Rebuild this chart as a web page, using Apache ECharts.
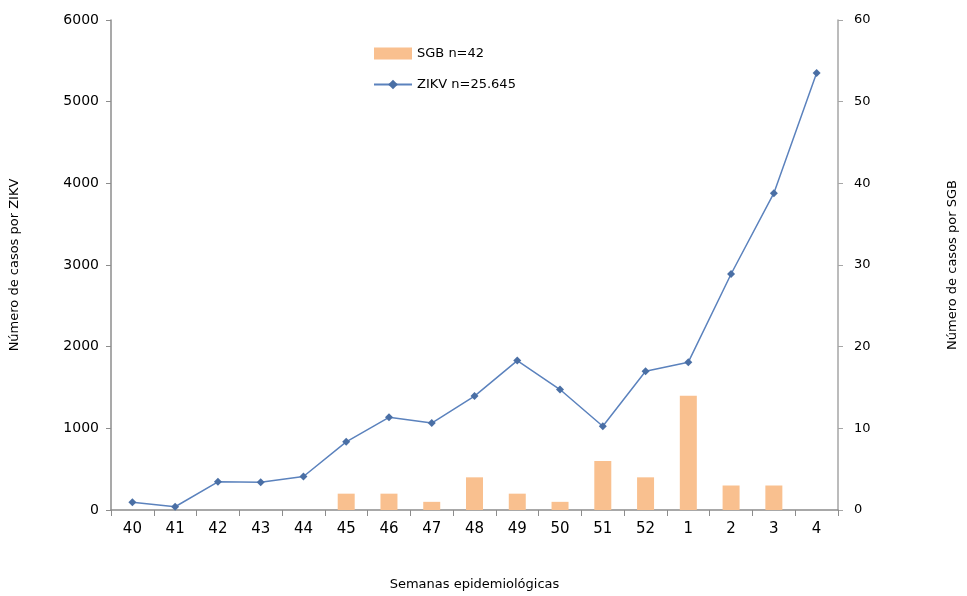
<!DOCTYPE html>
<html>
<head>
<meta charset="utf-8">
<script src="https://cdn.jsdelivr.net/npm/echarts@6/dist/echarts.min.js"></script>
<style>
  html, body { margin: 0; padding: 0; background: #fff; }
  #chart { width: 967px; height: 596px; }
</style>
</head>
<body>
<div id="chart"></div>
<script>
// semanas epidemiológicas (2015-2016)
var weeks = ['40', '41', '42', '43', '44', '45', '46', '47', '48', '49', '50', '51', '52', '1', '2', '3', '4'];
// casos SGB por semana (eje derecho)
var sgbCases = [0, 0, 0, 0, 0, 2, 2, 1, 4, 2, 1, 6, 4, 14, 3, 3, 0];
// casos ZIKV por semana (eje izquierdo)
var zikvCases = [95, 40, 345, 340, 410, 835, 1135, 1065, 1395, 1830, 1475, 1025, 1700, 1810, 2890, 3880, 5350];
var leftTicks = [0, 6000, 1000];
var rightTicks = [0, 60, 10];

var chart = echarts.init(document.getElementById('chart'));
var fontFam = 'DejaVu Sans, Verdana, sans-serif';
var axisGray = '#8c8c8c';

var option = {
  animation: false,
  textStyle: { fontFamily: fontFam, color: '#000' },
  legend: {
    orient: 'vertical',
    left: 368,
    top: 42,
    itemGap: 18,
    itemWidth: 38,
    itemHeight: 12,
    textStyle: { fontSize: 13, color: '#000', fontFamily: fontFam },
    data: [
      { name: 'SGB n=42', icon: 'rect' },
      { name: 'ZIKV n=25.645' }
    ]
  },
  grid: { left: 111, right: 120, top: 20, bottom: 86 },
  xAxis: {
    type: 'category',
    data: weeks,
    name: 'Semanas epidemiológicas',
    nameLocation: 'middle',
    nameGap: 68,
    nameTextStyle: { fontSize: 13, color: '#000' },
    axisLine: { lineStyle: { color: axisGray, width: 1.5 } },
    axisTick: { show: true, alignWithLabel: false, length: 6, lineStyle: { color: axisGray } },
    axisLabel: { fontSize: 15, color: '#000', margin: 12 }
  },
  yAxis: [
    {
      type: 'value',
      min: leftTicks[0],
      max: leftTicks[1],
      interval: leftTicks[2],
      name: 'Número de casos por ZIKV',
      nameLocation: 'middle',
      nameGap: 90,
      nameTextStyle: { fontSize: 13, color: '#000' },
      axisLine: { show: true, lineStyle: { color: axisGray, width: 1.5 } },
      axisTick: { show: true, length: 5, lineStyle: { color: axisGray } },
      splitLine: { show: false },
      axisLabel: { fontSize: 14, color: '#000', margin: 12, formatter: function (v) { return String(v); } }
    },
    {
      type: 'value',
      min: rightTicks[0],
      max: rightTicks[1],
      interval: rightTicks[2],
      position: 'right',
      name: 'Número de casos por SGB',
      nameLocation: 'middle',
      nameGap: 108,
      nameRotate: 90,
      nameTextStyle: { fontSize: 13, color: '#000' },
      axisLine: { show: true, lineStyle: { color: '#a6a6a6', width: 1.5 } },
      axisTick: { show: true, length: 5, lineStyle: { color: '#a6a6a6' } },
      splitLine: { show: false },
      axisLabel: { fontSize: 13, color: '#000', margin: 16 }
    }
  ],
  series: [
    {
      name: 'SGB n=42',
      type: 'bar',
      yAxisIndex: 1,
      data: sgbCases,
      barWidth: 17,
      itemStyle: { color: '#f9c08f' }
    },
    {
      name: 'ZIKV n=25.645',
      type: 'line',
      yAxisIndex: 0,
      data: zikvCases,
      symbol: 'diamond',
      symbolSize: 8,
      lineStyle: { color: '#5b82bd', width: 1.5 },
      itemStyle: { color: '#4a6fa5' }
    }
  ]
};

chart.setOption(option);
</script>
</body>
</html>
